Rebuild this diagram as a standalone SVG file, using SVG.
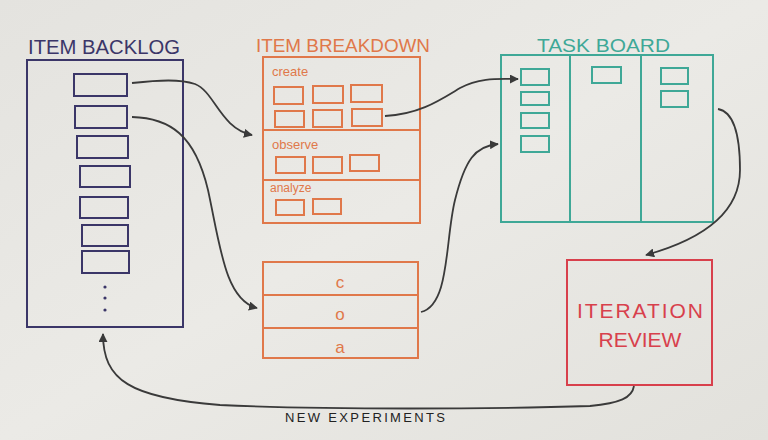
<svg xmlns="http://www.w3.org/2000/svg" width="768" height="440" viewBox="0 0 768 440">
<defs>
<linearGradient id="bg" x1="0" y1="0" x2="1" y2="1">
<stop offset="0" stop-color="#e4e3df"/>
<stop offset="0.5" stop-color="#ebeae6"/>
<stop offset="1" stop-color="#e2e1dc"/>
</linearGradient>
<marker id="ah" viewBox="0 0 10 10" refX="9" refY="5" markerWidth="5" markerHeight="5" orient="auto" markerUnits="strokeWidth">
<path d="M0 0 L10 5 L0 10 Z" fill="#3a3a3a"/>
</marker>
<style>
.t{font-family:"Liberation Sans",Arial,sans-serif}
.nv{fill:none;stroke:#3b3668;stroke-width:2}
.or{fill:none;stroke:#e0784a;stroke-width:2}
.tl{fill:none;stroke:#3fa897;stroke-width:2}
.rd{fill:none;stroke:#d8404c;stroke-width:2}
.cn{fill:none;stroke:#3a3a3a;stroke-width:1.8;marker-end:url(#ah)}
.lab{font-family:"Liberation Sans",Arial,sans-serif;font-size:13px;fill:#e0784a}
.big{font-size:17px}
.sm{font-size:12px}
</style>
</defs>
<rect width="768" height="440" fill="url(#bg)"/>

<g id="backlog">
<text class="t" x="28" y="54" font-size="20" fill="#3b3668" textLength="152" lengthAdjust="spacingAndGlyphs">ITEM BACKLOG</text>
<rect class="nv" x="27" y="60" width="156" height="267"/>
<rect class="nv" x="74" y="74" width="53" height="22"/>
<rect class="nv" x="75" y="106" width="52" height="22"/>
<rect class="nv" x="77" y="136" width="51" height="22"/>
<rect class="nv" x="80" y="166" width="50" height="21"/>
<rect class="nv" x="80" y="197" width="48" height="21"/>
<rect class="nv" x="82" y="225" width="46" height="21"/>
<rect class="nv" x="82" y="251" width="47" height="22"/>
<circle cx="105" cy="287" r="1.6" fill="#3b3668"/>
<circle cx="105" cy="298" r="1.6" fill="#3b3668"/>
<circle cx="105" cy="310" r="1.6" fill="#3b3668"/>
</g>

<g id="breakdown">
<text class="t" x="256" y="52" font-size="19" fill="#e0784a" textLength="174" lengthAdjust="spacingAndGlyphs">ITEM BREAKDOWN</text>
<rect class="or" x="263" y="57" width="157" height="166"/>
<line class="or" x1="263" y1="130" x2="420" y2="130"/>
<line class="or" x1="263" y1="180" x2="420" y2="180"/>
<text class="lab" x="272" y="76">create</text>
<rect class="or" x="274" y="87" width="29" height="17"/>
<rect class="or" x="313" y="86" width="30" height="17"/>
<rect class="or" x="351" y="85" width="31" height="17"/>
<rect class="or" x="275" y="111" width="29" height="16"/>
<rect class="or" x="313" y="110" width="29" height="17"/>
<rect class="or" x="352" y="109" width="30" height="17"/>
<text class="lab" x="272" y="149">observe</text>
<rect class="or" x="276" y="157" width="29" height="16"/>
<rect class="or" x="313" y="157" width="29" height="16"/>
<rect class="or" x="350" y="155" width="29" height="16"/>
<text class="lab sm" x="270" y="192">analyze</text>
<rect class="or" x="276" y="200" width="28" height="15"/>
<rect class="or" x="313" y="199" width="28" height="15"/>
</g>

<g id="summary">
<rect class="or" x="263" y="262" width="155" height="96"/>
<line class="or" x1="263" y1="295" x2="418" y2="295"/>
<line class="or" x1="263" y1="328" x2="418" y2="328"/>
<text class="lab big" x="340" y="288" text-anchor="middle">c</text>
<text class="lab big" x="340" y="320" text-anchor="middle">o</text>
<text class="lab big" x="340" y="353" text-anchor="middle">a</text>
</g>

<g id="taskboard">
<text class="t" x="537" y="52" font-size="19" fill="#3fa897" textLength="133" lengthAdjust="spacingAndGlyphs">TASK BOARD</text>
<rect class="tl" x="501" y="55" width="212" height="167"/>
<line class="tl" x1="570" y1="55" x2="570" y2="222"/>
<line class="tl" x1="641" y1="55" x2="641" y2="222"/>
<rect class="tl" x="521" y="69" width="28" height="16"/>
<rect class="tl" x="521" y="92" width="28" height="13"/>
<rect class="tl" x="521" y="113" width="28" height="15"/>
<rect class="tl" x="521" y="136" width="28" height="16"/>
<rect class="tl" x="592" y="67" width="29" height="16"/>
<rect class="tl" x="661" y="68" width="27" height="16"/>
<rect class="tl" x="661" y="91" width="27" height="16"/>
</g>

<g id="review">
<rect class="rd" x="567" y="260" width="145" height="125"/>
<text class="t" x="640" y="318" font-size="21" fill="#d8404c" text-anchor="middle" textLength="126" lengthAdjust="spacing">ITERATION</text>
<text class="t" x="640" y="347" font-size="21" fill="#d8404c" text-anchor="middle">REVIEW</text>
</g>

<g id="connectors">
<path class="cn" d="M132 83 C160 80 180 79 195 84 C215 92 220 128 252 135"/>
<path class="cn" d="M132 117 C170 118 195 135 208 190 C220 245 225 300 257 308"/>
<path class="cn" d="M385 116 C420 114 440 100 460 88 C480 77 500 79 518 79"/>
<path class="cn" d="M421 312 C450 305 445 240 455 200 C465 160 475 146 498 144"/>
<path class="cn" d="M718 109 C735 112 740 140 740 170 C740 215 700 240 646 255"/>
<path class="cn" d="M634 386 C632 398 620 403 590 406 C500 409 320 410 220 405 C130 398 103 380 103 334"/>
<text class="t" x="285" y="422" font-size="13" fill="#222" textLength="160" lengthAdjust="spacing">NEW EXPERIMENTS</text>
</g>
</svg>
